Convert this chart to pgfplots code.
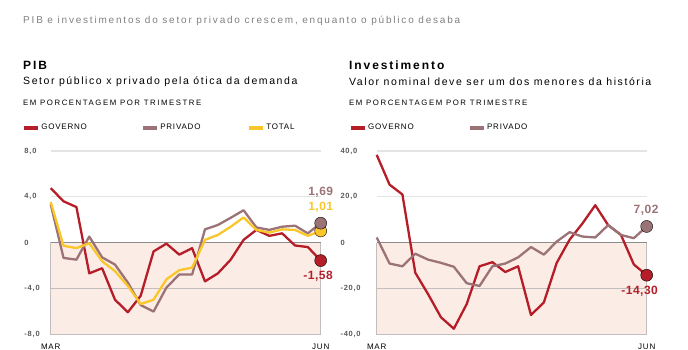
\documentclass[border=0pt]{standalone}
\usepackage{pgfplots}
\pgfplotsset{compat=1.18}
\usepackage{fontspec}
\setmainfont{Liberation Sans}
\newfontfamily\spc[LetterSpace=10]{Liberation Sans}
\newfontfamily\spA[LetterSpace=18]{Liberation Sans}
\newfontfamily\spB[LetterSpace=15]{Liberation Sans}
\newfontfamily\spC[LetterSpace=20]{Liberation Sans}
\newfontfamily\spD[LetterSpace=16]{Liberation Sans}
\newfontfamily\spE[LetterSpace=4]{Liberation Sans}
\definecolor{gov}{RGB}{181,30,40}
\definecolor{priv}{RGB}{155,115,118}
\definecolor{tot}{RGB}{250,198,40}
\definecolor{shade}{RGB}{251,237,230}
\definecolor{gridc}{RGB}{228,228,228}
\definecolor{zeroc}{RGB}{140,140,140}
\definecolor{bordc}{RGB}{195,190,188}
\definecolor{tickc}{RGB}{90,90,90}
\newcommand\tickfont{\spc\bfseries\fontsize{7.5bp}{8bp}\selectfont}
\newcommand\legfont{\spc\fontsize{8bp}{9bp}\selectfont}
\newcommand\valfont{\spE\bfseries\fontsize{12bp}{13bp}\selectfont}
\pgfplotsset{
  base/.style={
    scale only axis, width=270bp, height=183bp,
    xmin=0, xmax=21, clip=false,
    axis line style={draw=none}, major tick length=0pt,
    xtick={0,21}, xticklabels={MAR,JUN},
    xticklabel style={font=\legfont, anchor=north, inner sep=0pt, yshift=-10bp},
    yticklabel style={font=\tickfont, text=tickc, anchor=east, inner sep=0pt, xshift=-10bp},
    legend columns=-1,
    legend image code/.code={\draw[line width=4bp,line cap=butt] (0bp,0bp) -- (14bp,0bp);},
  },
  gline/.style={line width=2.3bp, line join=round},
  dot/.style={only marks, mark=*, mark size=6bp, mark options={line width=2.4bp, draw=white}},
}
\begin{document}
\begin{tikzpicture}
\path[use as bounding box] (0,0) rectangle (688bp,350bp);
\node[anchor=west, text=gray, inner sep=0pt] at (23bp,329bp) {\spA\fontsize{10bp}{11bp}\selectfont PIB e investimentos do setor privado crescem, enquanto o público desaba};
% left titles
\node[anchor=west, inner sep=0pt] at (23bp,285bp) {\spD\bfseries\fontsize{12bp}{13bp}\selectfont PIB};
\node[anchor=west, inner sep=0pt] at (23bp,268bp) {\spB\fontsize{10.5bp}{11bp}\selectfont Setor público x privado pela ótica da demanda};
\node[anchor=west, inner sep=0pt] at (23bp,247bp) {\spC\fontsize{7.8bp}{8bp}\selectfont EM PORCENTAGEM POR TRIMESTRE};
% right titles
\node[anchor=west, inner sep=0pt] at (349bp,285bp) {\spD\bfseries\fontsize{12bp}{13bp}\selectfont Investimento};
\node[anchor=west, inner sep=0pt] at (349bp,268bp) {\spB\fontsize{10.5bp}{11bp}\selectfont Valor nominal deve ser um dos menores da história};
\node[anchor=west, inner sep=0pt] at (349bp,247bp) {\spC\fontsize{7.8bp}{8bp}\selectfont EM PORCENTAGEM POR TRIMESTRE};

\begin{axis}[base, at={(50.7bp,16bp)}, anchor=south west,
  ymin=-8, ymax=8, ytick={-8,-4,0,4,8},
  yticklabels={{\makebox[16bp][l]{-8,0}},{\makebox[16bp][l]{-4,0}},{\makebox[16bp][l]{0}},{\makebox[16bp][l]{4,0}},{\makebox[16bp][l]{8,0}}},
  legend style={draw=none, fill=none, inner sep=0pt, at={(-0.106,1.126)}, anchor=west, font=\legfont,
    nodes={inner sep=1bp}},
]
\addplot[fill=shade, draw=bordc, line width=0.8bp, forget plot] coordinates {(0,0) (0,-8) (21,-8) (21,0)};
\addplot[gridc, line width=1.3bp, forget plot] coordinates {(0,8) (21,8)};
\addplot[gridc, line width=1.3bp, forget plot] coordinates {(0,4) (21,4)};
\addplot[bordc, line width=0.8bp, forget plot] coordinates {(0,-4) (21,-4)};
\addplot[zeroc, line width=1bp, forget plot] coordinates {(0,0) (21,0)};
\addplot[gline, gov] coordinates {
(0,4.75)(1,3.6)(2,3.1)(3,-2.7)(4,-2.25)(5,-5.0)(6,-6.1)(7,-4.66)(8,-0.78)(9,-0.1)(10,-1.06)
(11,-0.5)(12,-3.4)(13,-2.7)(14,-1.5)(15,0.23)(16,1.1)(17,0.58)(18,0.8)(19,-0.26)(20,-0.4)(21,-1.58)};
\addlegendentry{\makebox[99bp][l]{GOVERNO}}
\addplot[gline, priv] coordinates {
(0,3.34)(1,-1.35)(2,-1.5)(3,0.52)(4,-1.3)(5,-1.93)(6,-3.5)(7,-5.47)(8,-6.04)(9,-3.94)(10,-2.8)
(11,-2.8)(12,1.15)(13,1.53)(14,2.16)(15,2.82)(16,1.32)(17,1.1)(18,1.38)(19,1.47)(20,0.8)(21,1.69)};
\addlegendentry{\makebox[86bp][l]{PRIVADO}}
\addplot[gline, tot] coordinates {
(0,3.54)(1,-0.29)(2,-0.49)(3,-0.06)(4,-1.64)(5,-2.5)(6,-3.8)(7,-5.38)(8,-5.0)(9,-3.22)(10,-2.42)
(11,-2.2)(12,0.23)(13,0.66)(14,1.38)(15,2.19)(16,1.1)(17,0.86)(18,1.15)(19,1.1)(20,0.58)(21,1.01)};
\addlegendentry{TOTAL}
\addplot[dot, mark options={fill=tot}, forget plot] coordinates {(21,1.01)};
\addplot[dot, mark options={fill=priv}, forget plot] coordinates {(21,1.69)};
\addplot[dot, mark options={fill=gov}, forget plot] coordinates {(21,-1.58)};
\node[text=priv, font=\valfont] at (axis cs:21.0,4.36) {1,69};
\node[text=tot, font=\valfont] at (axis cs:21.0,3.05) {1,01};
\node[text=gov, font=\valfont] at (axis cs:20.8,-2.97) {-1,58};
\end{axis}

\begin{axis}[base, at={(376.7bp,16bp)}, anchor=south west,
  ymin=-40, ymax=40, ytick={-40,-20,0,20,40},
  yticklabels={{\makebox[18bp][l]{-40,0}},{\makebox[18bp][l]{-20,0}},{\makebox[18bp][l]{0}},{\makebox[18bp][l]{20,0}},{\makebox[18bp][l]{40,0}}},
  yticklabel style={xshift=-8bp},
  legend style={draw=none, fill=none, inner sep=0pt, at={(-0.103,1.126)}, anchor=west, font=\legfont,
    nodes={inner sep=1bp}},
]
\addplot[fill=shade, draw=bordc, line width=0.8bp, forget plot] coordinates {(0,0) (0,-40) (21,-40) (21,0)};
\addplot[gridc, line width=1.3bp, forget plot] coordinates {(0,40) (21,40)};
\addplot[gridc, line width=1.3bp, forget plot] coordinates {(0,20) (21,20)};
\addplot[bordc, line width=0.8bp, forget plot] coordinates {(0,-20) (21,-20)};
\addplot[zeroc, line width=1bp, forget plot] coordinates {(0,0) (21,0)};
\addplot[gline, gov] coordinates {
(0,38.3)(1,25.3)(2,21.0)(3,-13.2)(4,-22.6)(5,-32.7)(6,-37.7)(7,-26.9)(8,-10.4)(9,-8.6)(10,-12.9)
(11,-10.4)(12,-31.7)(13,-26.2)(14,-8.9)(15,1.2)(16,8.3)(17,16.3)(18,7.6)(19,3.3)(20,-9.6)(21,-14.3)};
\addlegendentry{\makebox[99bp][l]{GOVERNO}}
\addplot[gline, priv] coordinates {
(0,2.2)(1,-9.2)(2,-10.4)(3,-4.9)(4,-7.5)(5,-8.9)(6,-10.6)(7,-17.8)(8,-19.0)(9,-10.4)(10,-9.2)
(11,-6.5)(12,-2.0)(13,-5.3)(14,0.4)(15,4.5)(16,2.6)(17,2.2)(18,7.6)(19,3.3)(20,1.9)(21,7.02)};
\addlegendentry{PRIVADO}
\addplot[dot, mark options={fill=priv}, forget plot] coordinates {(21,7.02)};
\addplot[dot, mark options={fill=gov}, forget plot] coordinates {(21,-14.3)};
\node[text=priv, font=\valfont] at (axis cs:20.95,14.3) {7,02};
\node[text=gov, font=\valfont] at (axis cs:20.45,-21.5) {-14,30};
\end{axis}
\end{tikzpicture}
\end{document}
